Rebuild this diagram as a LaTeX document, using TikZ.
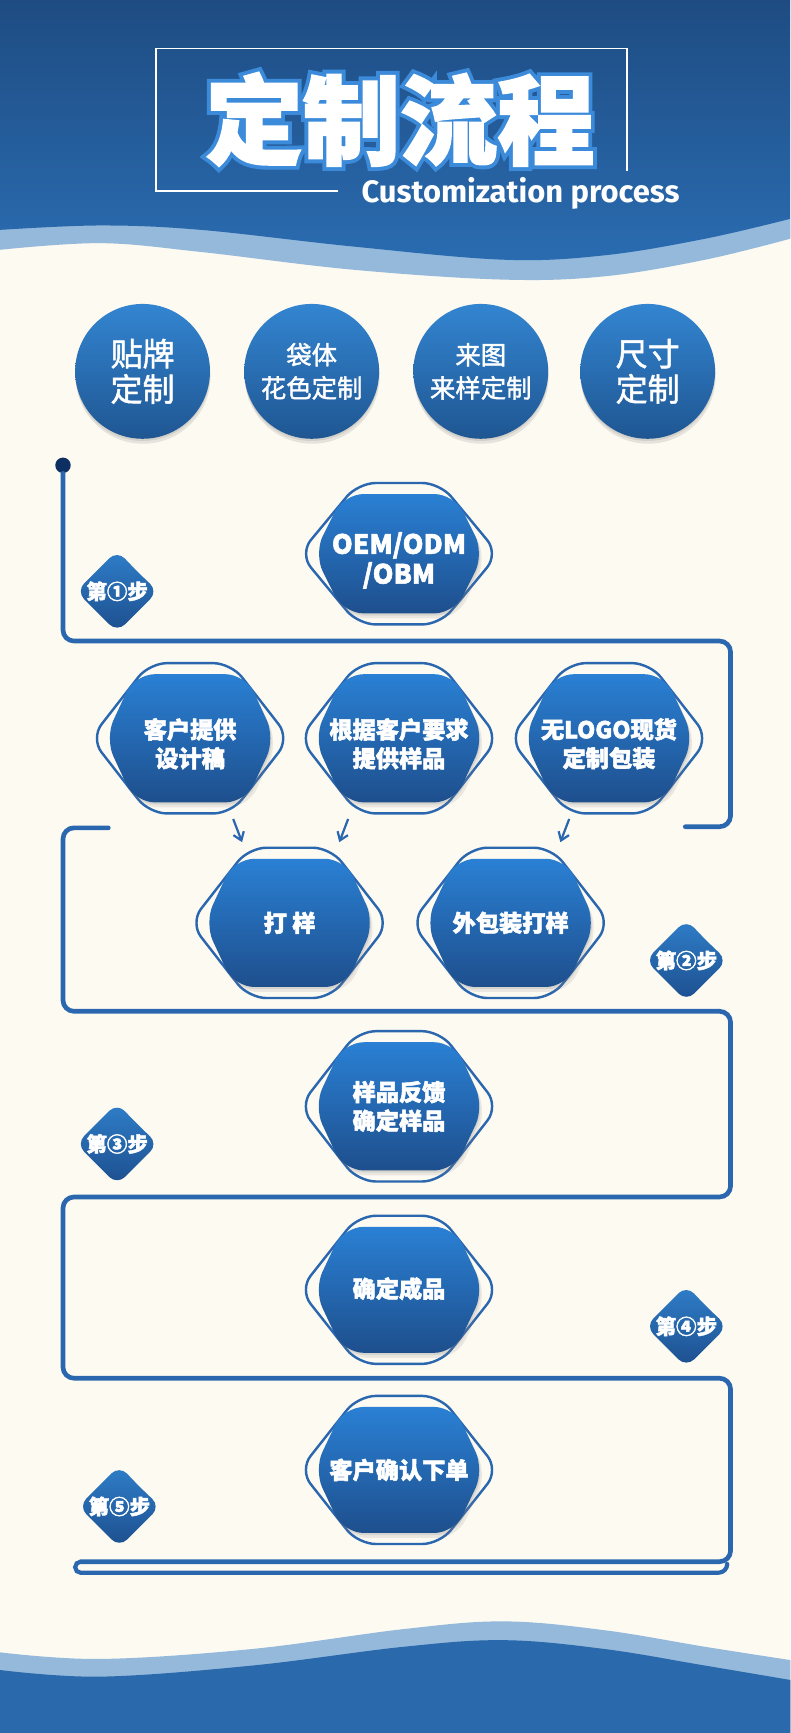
\documentclass[tikz,border=0pt]{standalone}
\usepackage{fontspec}
\newfontfamily\cjk{Noto Sans CJK SC}[BoldFeatures={FakeBold=2}]
\newfontfamily\cjkmed{Noto Sans CJK SC}[FakeBold=1.5]
\newfontfamily\cjkstroke{Noto Sans CJK SC}[BoldFeatures={FakeBold=10}]
\newfontfamily\latinbold{Fira Sans}
\usetikzlibrary{arrows.meta,shadows}
\definecolor{flowblue}{HTML}{2B67AF}
\definecolor{hextop}{HTML}{2A80D4}
\definecolor{hexbot}{HTML}{1E4F8D}
\definecolor{circtop}{HTML}{3385D1}
\definecolor{circbot}{HTML}{1F5692}
\definecolor{badgetop}{HTML}{2F7EC9}
\definecolor{badgebot}{HTML}{1D4F8E}
\definecolor{headtop}{HTML}{1E4C82}
\definecolor{headbot}{HTML}{2A6CB1}
\definecolor{bandblue}{HTML}{94B9DB}
\definecolor{footblue}{HTML}{2A69AB}
\definecolor{dotnavy}{HTML}{0E2F62}
\definecolor{titleedge}{HTML}{3C8BDA}
\definecolor{cream}{HTML}{FDFAF2}
\tikzset{
  flow/.style={draw=flowblue, line width=4.2pt, rounded corners=10pt, line cap=round},
  hexline/.style={draw=flowblue, line width=2.2pt, rounded corners=16pt},
  hexfill/.style={top color=hextop, bottom color=hexbot, rounded corners=18pt,
     drop shadow={shadow xshift=1pt, shadow yshift=-2pt, opacity=0.15, fill=black!60},
     drop shadow={shadow xshift=2.5pt, shadow yshift=-4.5pt, opacity=0.15, fill=black!50}},
  hextext/.style={text=white, align=center, inner sep=0pt, font=\cjk\bfseries\fontsize{21}{26}\selectfont},
  circ/.style={circle, minimum size=122pt, inner sep=0pt, top color=circtop, bottom color=circbot,
     drop shadow={shadow xshift=0pt, shadow yshift=-2pt, opacity=0.15, fill=black!60},
     drop shadow={shadow xshift=0.5pt, shadow yshift=-4.5pt, opacity=0.15, fill=black!60},
     text=white, align=center},
  badgefill/.style={top color=badgetop, bottom color=badgebot, rounded corners=10pt},
  badgetext/.style={text=white, inner sep=0pt, font=\cjk\bfseries\fontsize{18.5}{18.5}\selectfont},
  arr/.style={draw=flowblue, line width=2pt, -{Straight Barb[length=7pt,width=10pt]}},
  dotn/.style={circle, fill=dotnavy, minimum size=14pt, inner sep=0pt}
}
% [text style]{name}{x}{y}{text y}{outer half height}{text}
\newcommand\hexnode[7][]{%
  \begin{scope}[shift={(#3,-#4)}]
    \draw[hexline] (0,#6) -- (37,#6) -- (90,0) -- (37,-#6) -- (-37,-#6) -- (-90,0) -- (-37,#6) -- cycle;
    \path[hexfill] (0,#6-10) -- (50,#6-10) -- (77,0) -- (50,10-#6) -- (-50,10-#6) -- (-77,0) -- (-50,#6-10) -- cycle;
  \end{scope}
  \node[hextext,#1] (#2) at (#3,-#5) {#7};
}
\newcommand\badgenode[4]{%
  \begin{scope}[shift={(#2,-#3)}]
    \path[badgefill] (18,18) -- (37,0) -- (0,-37) -- (-37,0) -- (0,37) -- cycle;
  \end{scope}
  \node[badgetext] (#1) at (#2,-#3) {#4};
}
\begin{document}
\begin{tikzpicture}[x=1pt,y=1pt]
\useasboundingbox (0,0) rectangle (715,-1568);
\fill[cream] (0,0) rectangle (715,-1568);
% header
\fill[bandblue] (715,0) -- (0,0) -- plot[smooth,tension=0.6] coordinates {(0,-226) (91,-220) (182,-228) (319,-244) (456,-253) (547,-250) (638,-235) (715,-216)} -- cycle;
\shade[top color=headtop, bottom color=headbot] (715,0) -- (0,0) -- plot[smooth,tension=0.6] coordinates {(0,-208) (91,-204) (182,-208) (319,-223) (456,-235) (547,-231) (638,-216) (715,-198)} -- cycle;
% footer
\fill[bandblue] (0,-1568) -- plot[smooth,tension=0.6] coordinates {(0,-1495) (91,-1501) (228,-1492) (365,-1474) (456,-1467) (547,-1475) (638,-1490) (715,-1502)} -- (715,-1568) -- cycle;
\fill[footblue] (0,-1568) -- plot[smooth,tension=0.6] coordinates {(0,-1511) (91,-1517) (228,-1507) (365,-1490) (456,-1484) (547,-1492) (638,-1507) (715,-1520)} -- (715,-1568) -- cycle;
% title frame
\draw[white, line width=1.5pt] (306,-173) -- (141,-173) -- (141,-44) -- (567,-44) -- (567,-155);
\node[inner sep=0pt, font=\fontsize{88}{88}\selectfont] (title) at (362,-108)
  {\rlap{\cjkstroke\bfseries\color{titleedge}定制流程}{\cjk\bfseries\color{white}定制流程}};
\node[anchor=west, inner sep=0pt, text=white, font=\latinbold\bfseries\fontsize{28}{28}\selectfont] (sub) at (327,-175) {Customization process};
% circles
\node[circ, font=\cjkmed\fontsize{29}{32}\selectfont] (c1) at (129,-336) {贴牌\\定制};
\node[circ, font=\cjkmed\fontsize{23}{30}\selectfont] (c2) at (282,-336) {袋体\\花色定制};
\node[circ, font=\cjkmed\fontsize{23}{30}\selectfont] (c3) at (435,-336) {来图\\来样定制};
\node[circ, font=\cjkmed\fontsize{29}{32}\selectfont] (c4) at (586,-336) {尺寸\\定制};
% flow line
\node[dotn] (dot) at (57,-421) {};
\coordinate (l1e) at (620,-748);
\draw[flow] (dot.south) -- (57,-580) -- (661,-580) -- (661,-748) -- (l1e);
\coordinate (l2s) at (98,-749);
\coordinate (l2e) at (73,-1413);
\draw[flow] (l2s) -- (57,-749) -- (57,-915) -- (661,-915) -- (661,-1083) -- (57,-1083) -- (57,-1247) -- (661,-1247) -- (661,-1413) -- (l2e);
\draw[flow, line width=3.8pt, rounded corners=0pt] (l2e) arc[start angle=90, end angle=270, radius=5] -- (650,-1423) arc[start angle=-90, end angle=0, radius=8];
% hexagons
\hexnode[font=\cjk\bfseries\fontsize{24}{27}\selectfont]{oem}{361}{501}{507}{64}{OEM/ODM\\/OBM}
\hexnode{r2a}{172}{668}{673}{68}{客户提供\\设计稿}
\hexnode{r2b}{361}{668}{673}{68}{根据客户要求\\提供样品}
\hexnode{r2c}{551}{668}{673}{68}{无LOGO现货\\定制包装}
\hexnode{r3a}{262}{835}{835}{68}{打 样}
\hexnode{r3b}{462}{835}{835}{68}{外包装打样}
\hexnode{r4}{361}{1001}{1001}{68}{样品反馈\\确定样品}
\hexnode{r5}{361}{1167}{1166}{67}{确定成品}
\hexnode{r6}{361}{1330}{1330}{67}{客户确认下单}
% arrows
\coordinate (a1s) at (211,-741); \coordinate (a1e) at (219,-762);
\coordinate (a2s) at (315,-741); \coordinate (a2e) at (307,-762);
\coordinate (a3s) at (515,-741); \coordinate (a3e) at (507,-762);
\draw[arr] (a1s) -- (a1e);
\draw[arr] (a2s) -- (a2e);
\draw[arr] (a3s) -- (a3e);
% badges
\badgenode{s1}{106}{535}{第①步}
\badgenode{s2}{621}{869}{第②步}
\badgenode{s3}{106}{1035}{第③步}
\badgenode{s4}{621}{1200}{第④步}
\badgenode{s5}{108}{1363}{第⑤步}
\end{tikzpicture}
\end{document}
